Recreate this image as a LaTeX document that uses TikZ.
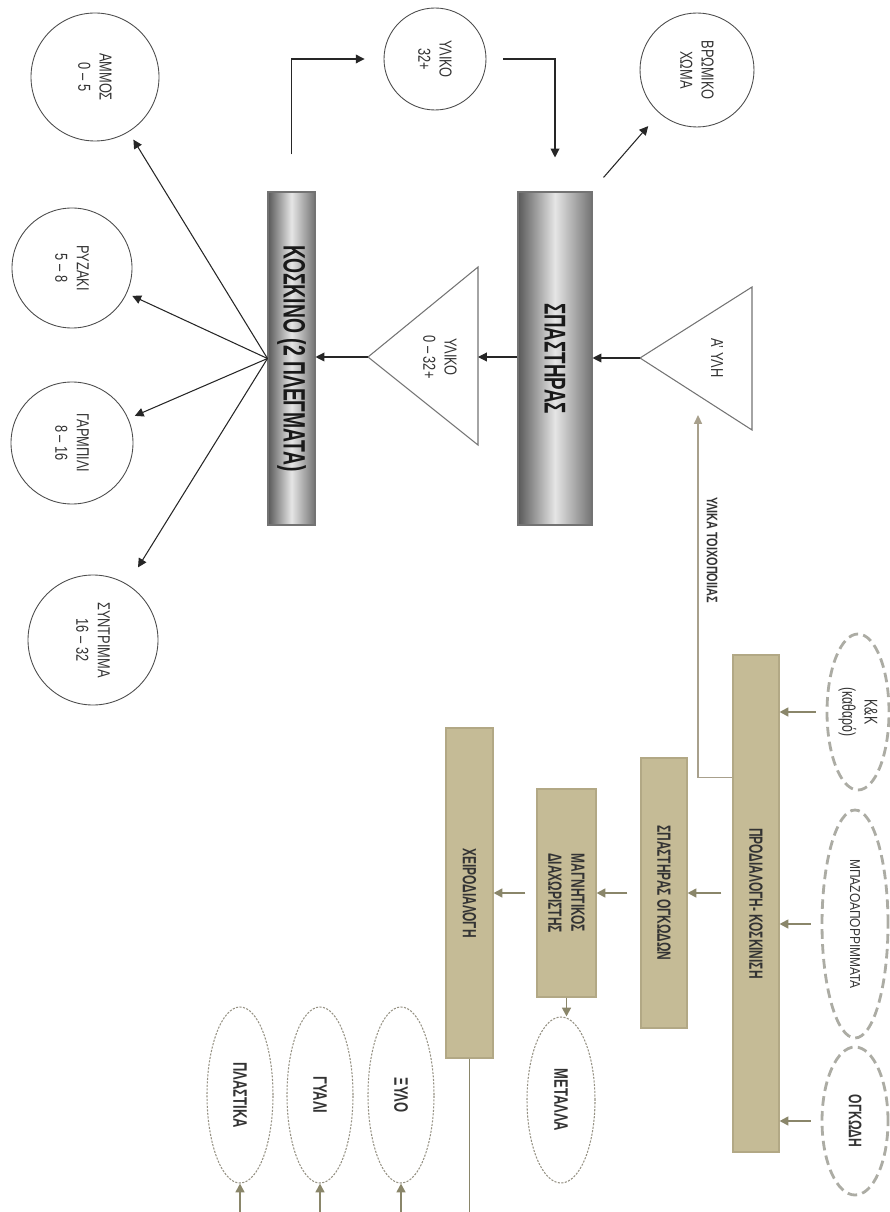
\documentclass[tikz,border=0pt]{standalone}
\usepackage{fontspec}
\setmainfont{Liberation Sans}
\usepackage{tikz}
\usepackage{xcolor}
\usetikzlibrary{positioning}
\usetikzlibrary{arrows.meta}
\usetikzlibrary{shapes.geometric}
\def\upx{0.02cm}
\definecolor{olive2}{RGB}{197,187,150}
\definecolor{olivedark}{RGB}{178,168,133}
\definecolor{olivearrow}{RGB}{138,134,106}
\definecolor{tanline}{RGB}{168,160,140}
\definecolor{dashgray}{RGB}{172,172,164}
\definecolor{dotgray}{RGB}{150,146,132}
\tikzset{
circ/.style={draw=black!70, line width=0.5pt, circle, inner sep=0pt, minimum size=#1*\upx},
metalbar/.style 2 args={draw=black!55, line width=0.6pt, rectangle, inner sep=0pt,
	minimum width=#1*\upx, minimum height=#2*\upx,
	left color=black!65, right color=black!55, middle color=black!10},
olivebar/.style 2 args={draw=olivedark, line width=0.6pt, fill=olive2, rectangle, inner sep=0pt,
	minimum width=#1*\upx, minimum height=#2*\upx},
dashell/.style 2 args={draw=dashgray, line width=1.6pt, dash pattern=on 5.5pt off 3pt, ellipse,
	inner sep=0pt, minimum width=#1*\upx, minimum height=#2*\upx},
dotell/.style 2 args={draw=dotgray, line width=0.6pt, dash pattern=on 1.2pt off 0.8pt, ellipse,
	inner sep=0pt, minimum width=#1*\upx, minimum height=#2*\upx},
bigtxt/.style={rotate=-90, yscale=1.6, text=black!90, font=\fontsize{11}{13}\selectfont\bfseries},
smalltxt/.style={rotate=-90, yscale=1.35, align=center, text=black!80, font=\fontsize{7.3}{9}\selectfont},
bartxt/.style={rotate=-90, yscale=1.6, align=center, text=black!80, font=\fontsize{6.8}{8.2}\selectfont\bfseries},
elltxt/.style={rotate=-90, yscale=1.5, align=center, text=black!80, font=\fontsize{7.4}{8.6}\selectfont\bfseries},
}

\begin{document}
\begin{tikzpicture}[x=0.02cm, y=-0.02cm]
\tikzstyle{blk}=[draw=black!85, line width=0.6pt, -{Triangle[length=5pt,width=5pt]}]
\tikzstyle{olv}=[draw=olivearrow, line width=1.1pt, -{Triangle[length=5pt,width=5pt]}]
\tikzstyle{tri}=[draw=black!55, line width=0.6pt]
\useasboundingbox (0,0) rectangle (889,1212);

%Place the nodes
\node[metalbar={47}{333}] (koskino) at (291.5,358.5) {};
\node[bigtxt] (koskino-t) at (koskino) {ΚΟΣΚΙΝΟ (2 ΠΛΕΓΜΑΤΑ)};
\node[metalbar={74}{333}] (spastiras) at (555,358.5) {};
\node[bigtxt, font=\fontsize{10.7}{13}\selectfont\bfseries] (spastiras-t) at (spastiras) {ΣΠΑΣΤΗΡΑΣ};

\coordinate (ayli-apex) at (640,358);
\draw[tri] (ayli-apex) -- (752,287) -- (752,430) -- cycle;
\node[smalltxt] (ayli) at (717,358) {Α' ΥΛΗ};
\coordinate (yliko-apex) at (368,357);
\coordinate (yliko-base) at (478,357);
\draw[tri] (yliko-apex) -- (478,267) -- (478,445) -- cycle;
\node[smalltxt] (yliko) at (440,357) {ΥΛΙΚΟ\\0 – 32+};

\node[circ=128] (ammos) at (95,77) {};
\node[smalltxt] (ammos-t) at (ammos) {ΑΜΜΟΣ\\0 – 5};
\node[circ=120] (ryzaki) at (72,268) {};
\node[smalltxt] (ryzaki-t) at (ryzaki) {ΡΥΖΑΚΙ\\5 – 8};
\node[circ=122] (garmpili) at (72,443) {};
\node[smalltxt] (garmpili-t) at (garmpili) {ΓΑΡΜΠΙΛΙ\\8 – 16};
\node[circ=130] (syntrimma) at (93,640) {};
\node[smalltxt] (syntrimma-t) at (syntrimma) {ΣΥΝΤΡΙΜΜΑ\\16 – 32};
\node[circ=102] (yliko32) at (435,59) {};
\node[smalltxt] (yliko32-t) at (yliko32) {ΥΛΙΚΟ\\32+};
\node[circ=114] (bromiko) at (697,70) {};
\node[smalltxt] (bromiko-t) at (bromiko) {ΒΡΩΜΙΚΟ\\ΧΩΜΑ};

%
\draw[blk] (ayli-apex) -- (spastiras.east |- ayli-apex);
\draw[blk] (spastiras.west |- yliko-base) -- (yliko-base);
\draw[blk] (yliko-apex) -- (koskino.east |- yliko-apex);
\foreach \c/\s in {ammos/9, ryzaki/6, garmpili/7, syntrimma/20}
	\draw[blk, shorten >=\s*\upx] (koskino.west) -- (\c);

%
\draw[blk, shorten >=19*\upx] ([yshift=37*\upx]koskino.north) |- (yliko32);
\draw[blk] ([xshift=17*\upx]yliko32.east) -| ([yshift=34*\upx]spastiras.north);
\draw[blk, shorten >=17*\upx] ([shift={(11,-14)}]spastiras.north east) -- (bromiko);

%
\node[olivebar={46}{497}] (prod) at (756,903.5) {};
\node[bartxt] (prod-t) at (prod) {ΠΡΟΔΙΑΛΟΓΗ- ΚΟΣΚΙΝΙΣΗ};
\node[olivebar={46}{270}] (spog) at (664,893) {};
\node[bartxt] (spog-t) at (spog) {ΣΠΑΣΤΗΡΑΣ ΟΓΚΩΔΩΝ};
\node[olivebar={59}{208}] (magn) at (566.5,893) {};
\node[bartxt] (magn-t) at (magn) {ΜΑΓΝΗΤΙΚΟΣ\\ΔΙΑΧΩΡΙΣΤΗΣ};
\node[olivebar={47}{330}] (xeir) at (469.5,893) {};
\node[bartxt] (xeir-t) at (xeir) {ΧΕΙΡΟΔΙΑΛΟΓΗ};

\node[dashell={62}{156}] (kk) at (858,712) {};
\node[elltxt, font=\fontsize{7}{8.4}\selectfont] (kk-t) at (kk) {Κ\&Κ\\(καθαρό)};
\node[dashell={66}{228}] (mpazo) at (855,924) {};
\node[elltxt, yscale=0.8, font=\fontsize{6.8}{8}\selectfont] (mpazo-t) at (mpazo) {ΜΠΑΖΟΑΠΟΡΡΙΜΜΑΤΑ};
\node[dashell={66}{148}] (ogk) at (855,1121) {};
\node[elltxt, font=\fontsize{6.9}{8}\selectfont\bfseries] (ogk-t) at (ogk) {ΟΓΚΩΔΗ};

\node[dotell={68}{166}] (metalla) at (561,1100) {};
\node[elltxt] (metalla-t) at (metalla) {ΜΕΤΑΛΛΑ};
\node[dotell={66}{176}] (xylo) at (401,1095) {};
\node[elltxt] (xylo-t) at (xylo) {ΞΥΛΟ};
\node[dotell={66}{176}] (gyali) at (320,1095) {};
\node[elltxt] (gyali-t) at (gyali) {ΓΥΑΛΙ};
\node[dotell={66}{176}] (plast) at (240,1095) {};
\node[elltxt] (plast-t) at (plast) {ΠΛΑΣΤΙΚΑ};

%
\draw[olv] ([xshift=-11*\upx]prod.west |- spog.east) -- (spog.east);
\draw[olv] ([xshift=-13*\upx]spog.west) -- (magn.east |- spog.west);
\draw[olv] ([xshift=-11*\upx]magn.west) -- (xeir.east |- magn.west);
\foreach \e in {kk, mpazo, ogk}
	\draw[olv] ([xshift=-10*\upx]\e.west) -- (prod.east |- \e.west);
\draw[olv] (magn.south) -- (magn.south |- metalla.north);

\coordinate (bottom) at (0,1212);
\draw[draw=olivearrow, line width=1.1pt] (xeir.south) -- (xeir.south |- bottom);
\foreach \e in {xylo, gyali, plast}
	\draw[olv] (\e.south |- bottom) -- (\e.south);

%
\coordinate (ayli-in) at (698,415);
\draw[draw=tanline, line width=0.9pt, -{Triangle[length=5pt,width=4.5pt]}] ([yshift=-123*\upx]prod.north west) -| (ayli-in);
\node[rotate=-90, yscale=1.4, text=black!80, font=\fontsize{6.2}{7.4}\selectfont\bfseries] (toix) at (712,550) {ΥΛΙΚΑ ΤΟΙΧΟΠΟΙΙΑΣ};

\end{tikzpicture}
\end{document}
